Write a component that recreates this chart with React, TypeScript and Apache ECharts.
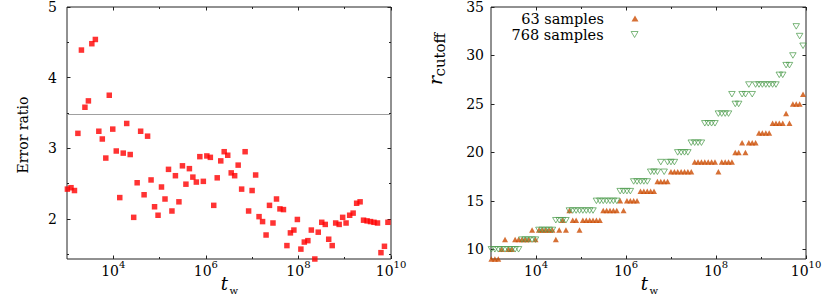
import React, { useEffect, useRef } from 'react';
import * as echarts from 'echarts';

// waiting time t_w (one point every 2^(1/4))
const tw = [
  1.02e3, 1.22e3, 1.45e3, 1.72e3, 2.05e3, 2.44e3, 2.9e3, 3.44e3, 4.1e3, 4.87e3,
  5.79e3, 6.89e3, 8.19e3, 9.74e3, 1.16e4, 1.38e4, 1.64e4, 1.95e4, 2.32e4, 2.76e4,
  3.28e4, 3.9e4, 4.63e4, 5.51e4, 6.55e4, 7.79e4, 9.27e4, 1.1e5, 1.31e5, 1.56e5,
  1.85e5, 2.2e5, 2.62e5, 3.12e5, 3.71e5, 4.41e5, 5.24e5, 6.23e5, 7.41e5, 8.82e5,
  1.05e6, 1.25e6, 1.48e6, 1.76e6, 2.1e6, 2.49e6, 2.97e6, 3.53e6, 4.19e6, 4.99e6,
  5.93e6, 7.05e6, 8.39e6, 9.98e6, 1.19e7, 1.41e7, 1.68e7, 2.0e7, 2.37e7, 2.82e7,
  3.36e7, 3.99e7, 4.75e7, 5.64e7, 6.71e7, 7.98e7, 9.49e7, 1.13e8, 1.34e8, 1.6e8,
  1.9e8, 2.26e8, 2.68e8, 3.19e8, 3.8e8, 4.51e8, 5.37e8, 6.38e8, 7.59e8, 9.03e8,
  1.07e9, 1.28e9, 1.52e9, 1.81e9, 2.15e9, 2.55e9, 3.04e9, 3.61e9, 4.29e9, 5.11e9,
  6.07e9, 7.22e9, 8.59e9,
];

const errorRatio = [
  2.42, 2.44, 2.4, 3.21, 4.39, 3.58, 3.67, 4.48, 4.54, 3.24,
  3.13, 2.86, 3.75, 3.27, 2.96, 2.3, 2.93, 3.35, 2.91, 2.02,
  2.51, 3.24, 2.34, 3.17, 2.55, 2.17, 2.05, 2.45, 2.28, 2.7,
  2.11, 2.61, 2.24, 2.75, 2.49, 2.71, 2.59, 2.52, 2.88, 2.53,
  2.89, 2.87, 2.19, 2.58, 2.82, 2.95, 2.9, 2.65, 2.61, 2.76,
  2.42, 2.95, 2.11, 2.4, 2.62, 2.03, 1.96, 1.77, 2.19, 1.94,
  2.28, 2.14, 2.13, 1.62, 1.8, 1.84, 1.99, 1.57, 1.67, 1.69,
  1.84, 1.43, 1.81, 1.95, 1.92, 1.71, 1.62, 1.94, 1.92, 2.02,
  1.94, 2.05, 2.08, 2.22, 2.24, 1.98, 1.97, 1.96, 1.95, 1.94,
  1.52, 1.61, 1.95,
];

const rCutoff63 = [
  9, 9, 9, 10, 11, 10, 10, 11, 11, 11,
  11, 11, 12, 11, 12, 12, 12, 12, 12, 11,
  12, 13, 12, 14, 13, 13, 12, 13, 13, 13,
  13, 13, 13, 14, 14, 14, 14, 14, 15, 14,
  15, 15, 15, 15, 16, 16, 16, 16, 16, 17,
  17, 17, 17, 18, 18, 18, 18, 18, 18, 18,
  19, 19, 19, 19, 19, 19, 19, 18, 19, 19,
  19, 19, 20, 20, 21, 20, 21, 21, 21, 22,
  22, 22, 22, 23, 23, 23, 23, 24, 23, 25,
  25, 25, 26,
];

const rCutoff768 = [
  10, 10, 10, 10, 10, 10, 10, 10, 10, 11,
  11, 11, 11, 11, 12, 12, 12, 12, 12, 13,
  13, 13, 13, 14, 14, 14, 14, 14, 14, 14,
  14, 15, 15, 15, 15, 15, 15, 15, 16, 16,
  16, 16, 17, 17, 17, 17, 17, 18, 18, 18,
  19, 18, 19, 19, 19, 20, 20, 20, 20, 21,
  21, 21, 21, 23, 23, 23, 23, 24, 24, 24,
  24, 26, 25, 25, 26, 26, 27, 26, 27, 27,
  27, 27, 27, 27, 27, 28, 28, 29, 29, 30,
  33, 32, 31,
];

const xMajorTicks = [1e4, 1e6, 1e8, 1e10];
const xMinorTicks = [1e5, 1e7, 1e9];
const errYMajor = [2, 3, 4, 5];
const errYMinor = [1.5, 2.5, 3.5, 4.5];
const rYMajor = [10, 15, 20, 25, 30, 35];
const errReference = 3.475;
const seriesNames = ['63 samples', '768 samples'];

const FONT = '"DejaVu Serif", serif';
const AX = '#222';
const ORANGE = '#cc4c02';
const GREEN = '#4a9a4a';
const DOWN_TRIANGLE = 'path://M0,0L10,0L5,8.66Z';
const openGreen = { color: 'rgba(255,255,255,0)', borderColor: GREEN, borderWidth: 0.9 };

function tick(vals: number[], len: number) {
  return { show: true, inside: true, length: len, customValues: vals, lineStyle: { color: AX, width: 1 } };
}

function xAxes(gridIndex: number) {
  const base: any = {
    type: 'log', logBase: 10, min: 1e3, max: 1e10, gridIndex,
    axisLine: { show: false }, splitLine: { show: false }, minorTick: { show: false },
  };
  return [
    {
      ...base, position: 'bottom', axisTick: tick(xMajorTicks, 3.5),
      axisLabel: {
        customValues: xMajorTicks, margin: 3, color: '#000',
        formatter: (v: number) => `{b|10}{s|${Math.round(Math.log10(v))}}`,
        rich: {
          b: { fontFamily: FONT, fontSize: 14, color: '#000', lineHeight: 16, verticalAlign: 'bottom' },
          s: { fontFamily: FONT, fontSize: 10, color: '#000', lineHeight: 10, padding: [0, 0, 9, 0], verticalAlign: 'bottom' },
        },
      },
    },
    { ...base, position: 'bottom', axisTick: tick(xMinorTicks, 2), axisLabel: { show: false } },
    { ...base, position: 'top', axisTick: tick(xMajorTicks, 3.5), axisLabel: { show: false } },
    { ...base, position: 'top', axisTick: tick(xMinorTicks, 2), axisLabel: { show: false } },
  ];
}

function yAxes(gridIndex: number, min: number, max: number, major: number[], minor: number[] | null, margin: number) {
  const base: any = {
    type: 'value', min, max, gridIndex,
    axisLine: { show: false }, splitLine: { show: false }, minorTick: { show: false },
  };
  const out: any[] = [
    {
      ...base, position: 'left', axisTick: tick(major, 3.5),
      axisLabel: { customValues: major, margin, color: '#000', fontFamily: FONT, fontSize: 14 },
    },
    { ...base, position: 'right', axisTick: tick(major, 3.5), axisLabel: { show: false } },
  ];
  if (minor) {
    out.push({ ...base, position: 'left', axisTick: tick(minor, 2), axisLabel: { show: false } });
    out.push({ ...base, position: 'right', axisTick: tick(minor, 2), axisLabel: { show: false } });
  }
  return out;
}

function legend(name: string, top: number, itemStyle: any) {
  return {
    data: [name], orient: 'vertical', right: 191.5, top, align: 'right', padding: 0,
    itemWidth: 7, itemHeight: 6, selectedMode: false, symbolKeepAspect: true, itemStyle,
    textStyle: { fontFamily: FONT, fontSize: 14.5, color: '#000', padding: [0, 22.5, 0, 0] },
  };
}

export default function App() {
  const ref = useRef<HTMLDivElement>(null);
  useEffect(() => {
    if (!ref.current) return;
    const chart = echarts.init(ref.current, undefined, { renderer: 'svg' });
    const gridStyle = { show: true, borderColor: AX, borderWidth: 1, backgroundColor: 'transparent', containLabel: false };
    const option: any = {
      animation: false,
      backgroundColor: '#fff',
      grid: [
        { ...gridStyle, left: 67, top: 7, width: 324, height: 252 },
        { ...gridStyle, left: 491, top: 7, width: 315, height: 252 },
      ],
      xAxis: [...xAxes(0), ...xAxes(1)],
      yAxis: [
        ...yAxes(0, 1.43, 5, errYMajor, errYMinor, 10),
        ...yAxes(1, 9, 35, rYMajor, null, 7),
      ],
      legend: [
        legend(seriesNames[0], 11, { color: ORANGE, borderWidth: 0 }),
        legend(seriesNames[1], 27, openGreen),
      ],
      series: [
        {
          type: 'scatter', xAxisIndex: 0, yAxisIndex: 0,
          data: tw.map((t, i) => [t, errorRatio[i]]),
          symbol: 'rect', symbolSize: 5.5,
          itemStyle: { color: '#ff0000' },
          markLine: {
            silent: true, symbol: 'none', label: { show: false },
            lineStyle: { color: '#a0a0a0', width: 1, type: 'solid' },
            data: [{ yAxis: errReference }],
          },
          z: 3,
        },
        {
          name: seriesNames[0], type: 'scatter', xAxisIndex: 4, yAxisIndex: 4,
          data: tw.map((t, i) => [t, rCutoff63[i]]),
          symbol: 'triangle', symbolSize: [6, 5.5],
          itemStyle: { color: ORANGE },
        },
        {
          name: seriesNames[1], type: 'scatter', xAxisIndex: 4, yAxisIndex: 4,
          data: tw.map((t, i) => [t, rCutoff768[i]]),
          symbol: DOWN_TRIANGLE, symbolSize: [6.5, 5.5],
          itemStyle: openGreen,
        },
      ],
      graphic: [
        {
          type: 'text', x: 22.5, y: 135, rotation: Math.PI / 2,
          style: { text: 'Error ratio', fontFamily: FONT, fontSize: 14, fill: '#000', align: 'center', verticalAlign: 'middle' },
        },
        {
          type: 'text', x: 220.7, y: 283.8,
          style: { text: 't', fontFamily: FONT, fontStyle: 'italic', fontSize: 18, fill: '#000', align: 'left', verticalAlign: 'middle' },
        },
        {
          type: 'text', x: 229.5, y: 290,
          style: { text: 'w', fontFamily: FONT, fontSize: 10, fill: '#000', align: 'left', verticalAlign: 'middle' },
        },
        {
          type: 'text', x: 640.7, y: 283.8,
          style: { text: 't', fontFamily: FONT, fontStyle: 'italic', fontSize: 18, fill: '#000', align: 'left', verticalAlign: 'middle' },
        },
        {
          type: 'text', x: 649.5, y: 290,
          style: { text: 'w', fontFamily: FONT, fontSize: 10, fill: '#000', align: 'left', verticalAlign: 'middle' },
        },
        {
          type: 'group', x: 442, y: 85, rotation: Math.PI / 2,
          children: [
            {
              type: 'text', x: 0, y: -6.6,
              style: { text: 'r', fontFamily: FONT, fontStyle: 'italic', fontSize: 19, fill: '#000', align: 'left', verticalAlign: 'middle' },
            },
            {
              type: 'text', x: 8.5, y: -2,
              style: { text: 'cutoff', fontFamily: FONT, fontSize: 15, fill: '#000', align: 'left', verticalAlign: 'middle' },
            },
          ],
        },
      ],
    };
    chart.setOption(option);
    return () => chart.dispose();
  }, []);
  return <div ref={ref} style={{ position: 'absolute', left: 0, top: 0, width: 830, height: 302 }} />;
}
